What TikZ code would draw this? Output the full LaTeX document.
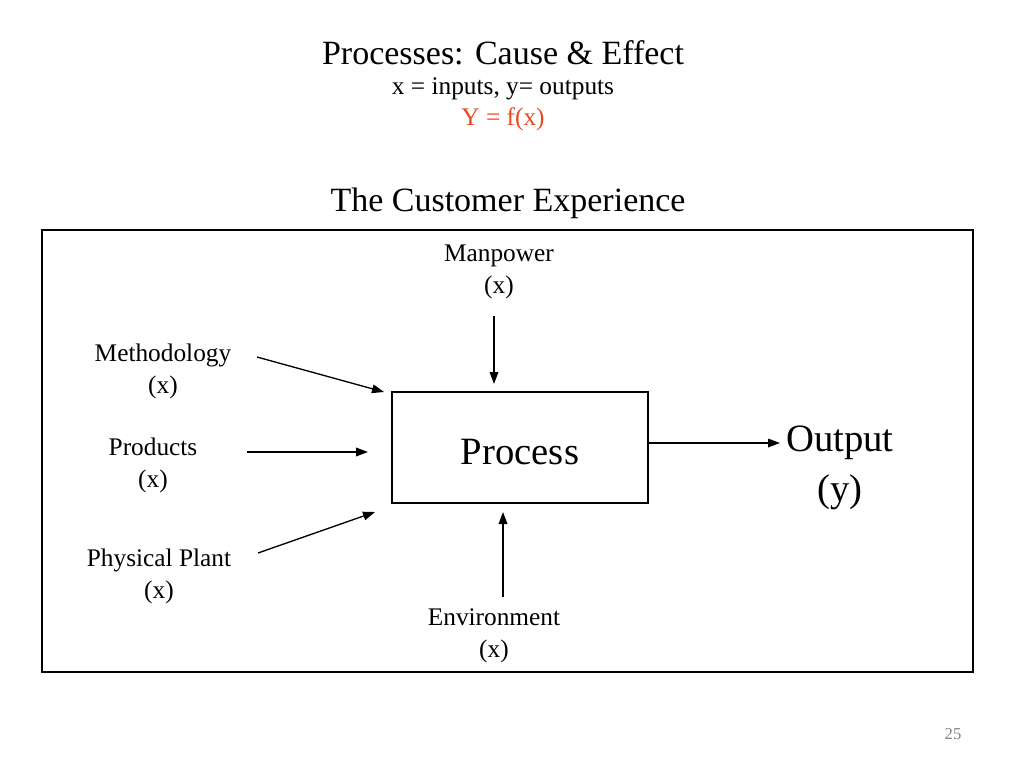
\documentclass[tikz,border=0pt]{standalone}
\usepackage{fontspec}
\setmainfont{Liberation Serif}
\usetikzlibrary{arrows.meta}
\definecolor{fred}{RGB}{236,72,30}
\definecolor{pagegray}{RGB}{130,130,130}

\begin{document}
\begin{tikzpicture}[x=0.75pt,y=-0.75pt]
  \tikzstyle{every node}+=[inner sep=0pt]
  \tikzstyle{cause}=[align=center,font=\fontsize{19}{24}\selectfont]
  \tikzstyle{feed}=[line width=1pt,-{Triangle[length=9pt,width=6.5pt]}]
  \useasboundingbox (0,0) rectangle (1024,768);
  % headings
  \node (title) at (503,53) {\fontsize{25.5}{28}\selectfont Processes: Cause \& Effect};
  \node (sub) at (503,89) {\fontsize{19}{22}\selectfont x = inputs, y= outputs};
  \node [text=fred] (yfx) at (503,119) {\fontsize{19}{22}\selectfont Y = f(x)};
  \node (cust) at (508,203) {\fontsize{25.5}{28}\selectfont The Customer Experience};
  % frame and process box
  \draw [line width=0.8pt] (42,230) rectangle (973,672);
  \draw [line width=0.8pt] (392,392) rectangle (648,503);
  \node (proc) at (520,452) {\fontsize{29}{34}\selectfont Process};
  \coordinate (procE) at (649,443);
  % causes
  \node [cause] (man) at (499,272) {Manpower\\(x)};
  \node [cause] (meth) at (163,371) {Methodology\\(x)};
  \node [cause] (prod) at (153,465) {Products\\(x)};
  \node [cause] (plant) at (159,576) {Physical Plant\\(x)};
  \node [cause] (env) at (494,636) {Environment\\(x)};
  \node [align=center,font=\fontsize{29}{37.5}\selectfont] (out) at (840,468) {Output\\(y)};
  % arrow ends
  \coordinate (manA) at (494,316);   \coordinate (manB) at (494,384);
  \coordinate (methA) at (257,357);  \coordinate (methB) at (384,392);
  \coordinate (prodA) at (247,452);  \coordinate (prodB) at (368,452);
  \coordinate (plantA) at (258,553); \coordinate (plantB) at (375,512);
  \coordinate (envA) at (503,597);   \coordinate (envB) at (503,512);
  \coordinate (outB) at (780,443);
  \draw [feed] (manA) -- (manB);
  \draw [feed] (methA) -- (methB);
  \draw [feed] (prodA) -- (prodB);
  \draw [feed] (plantA) -- (plantB);
  \draw [feed] (envA) -- (envB);
  \draw [feed] (procE) -- (outB);
  % page number
  \node [text=pagegray] (page) at (953,734) {\fontsize{12.5}{14}\selectfont 25};
\end{tikzpicture}
\end{document}
